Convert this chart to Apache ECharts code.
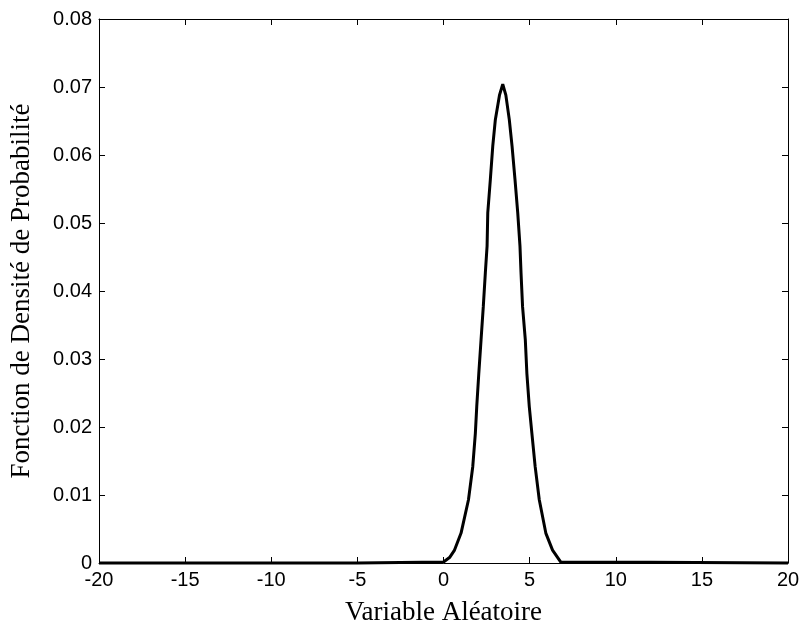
<!DOCTYPE html>
<html>
<head>
<meta charset="utf-8">
<script src="https://cdn.jsdelivr.net/npm/echarts@6/dist/echarts.min.js"></script>
<style>
  html, body { margin: 0; padding: 0; background: #fff; }
  #chart { width: 804px; height: 635px; }
</style>
</head>
<body>
<div id="chart"></div>
<script>
// valeurs
var xVals = [-20, -5.01, -5, 0, 0.35, 0.64, 1.02, 1.45, 1.70, 1.85, 1.93, 2.05, 2.18, 2.31, 2.43, 2.53, 2.57, 2.72, 2.86, 3.01, 3.25, 3.44,
             3.62, 3.82, 3.98, 4.15, 4.31, 4.44, 4.50, 4.59, 4.75, 4.84, 4.98, 5.13, 5.32, 5.56, 5.94, 6.33, 6.81, 12, 12.01, 20];
var yVals = [0, 0, 0.00012, 0.00015, 0.0008, 0.0019, 0.0044, 0.0093, 0.0142, 0.0191, 0.0230, 0.0279, 0.0328, 0.0377, 0.0427, 0.0466, 0.0515, 0.0564, 0.0613, 0.0652, 0.0688, 0.0704,
             0.0688, 0.0652, 0.0613, 0.0564, 0.0515, 0.0466, 0.0427, 0.0377, 0.0328, 0.0279, 0.0230, 0.0191, 0.0142, 0.0093, 0.0044, 0.0019, 0.00012, 0.00012, 0, 0];
var xTicks = [-20, -15, -10, -5, 0, 5, 10, 15, 20];
var yTicks = [0, 0.01, 0.02, 0.03, 0.04, 0.05, 0.06, 0.07, 0.08];

var pts = [];
for (var i = 0; i < xVals.length; i++) {
    pts.push([xVals[i], yVals[i]]);
}

var myChart = echarts.init(document.getElementById('chart'));

var tickFont = { color: '#000', fontFamily: 'Liberation Sans', fontSize: 20 };
var nameFont = { color: '#000', fontFamily: 'Liberation Serif', fontSize: 27 };
var boxLine = { show: true, onZero: false, lineStyle: { color: '#000', width: 1 } };
var inTick = { show: true, inside: true, length: 6, lineStyle: { color: '#000' } };

var option = {
    backgroundColor: '#fff',
    animation: false,
    grid: { left: 97, right: 16, top: 19, bottom: 72, containLabel: false },
    xAxis: [
        {
            type: 'value', min: -20, max: 20, interval: 5,
            name: 'Variable Aléatoire', nameLocation: 'middle', nameGap: 36,
            nameTextStyle: nameFont,
            axisLine: boxLine,
            axisTick: inTick,
            axisLabel: Object.assign({ margin: 7, formatter: function (v) { return xTicks.indexOf(v) >= 0 ? String(v) : ''; } }, tickFont),
            splitLine: { show: false }
        },
        {
            type: 'value', min: -20, max: 20, interval: 5, position: 'top',
            axisLine: boxLine,
            axisTick: inTick,
            axisLabel: { show: false },
            splitLine: { show: false }
        }
    ],
    yAxis: [
        {
            type: 'value', min: 0, max: 0.08, interval: 0.01,
            name: 'Fonction de Densité de Probabilité', nameLocation: 'middle', nameGap: 64,
            nameTextStyle: nameFont,
            axisLine: boxLine,
            axisTick: inTick,
            axisLabel: Object.assign({ margin: 7, formatter: function (v) {
                var r = Math.round(v * 100) / 100;
                return r === 0 ? '0' : r.toFixed(2);
            } }, tickFont),
            splitLine: { show: false }
        },
        {
            type: 'value', min: 0, max: 0.08, interval: 0.01, position: 'right',
            axisLine: boxLine,
            axisTick: inTick,
            axisLabel: { show: false },
            splitLine: { show: false }
        }
    ],
    series: [{
        type: 'line',
        data: pts,
        showSymbol: false,
        clip: false,
        lineStyle: { color: '#000', width: 3 },
        z: 5
    }]
};
myChart.setOption(option);
</script>
</body>
</html>
